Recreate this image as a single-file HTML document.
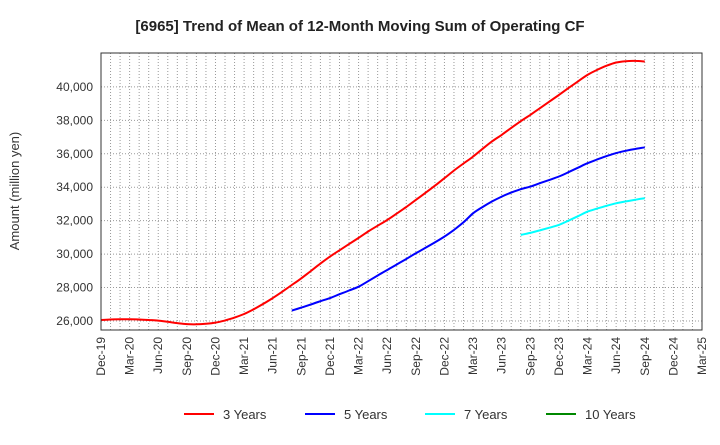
<!DOCTYPE html>
<html><head><meta charset="utf-8"><style>
body{margin:0;background:#fff;font-family:"Liberation Sans",sans-serif}
</style></head><body>
<svg id="chart" width="720" height="440" xmlns="http://www.w3.org/2000/svg" font-family="Liberation Sans, sans-serif">
<text x="360" y="31" text-anchor="middle" font-size="15" font-weight="bold" fill="#222">[6965]  Trend of Mean of 12-Month Moving Sum of Operating CF</text>
<text transform="translate(19,191) rotate(-90)" text-anchor="middle" font-size="13" fill="#333">Amount (million yen)</text>
<g id="grid"></g>
<g id="series"></g>
<rect x="101" y="53" width="601" height="277" fill="none" stroke="#333" stroke-width="1"/>
<g id="yt"></g>
<g id="xt"></g>
<g font-size="13" fill="#333">
<g><line x1="184" y1="414" x2="214" y2="414" stroke="#f00" stroke-width="2"/><text x="223" y="419">3 Years</text></g>
<g><line x1="305" y1="414" x2="335" y2="414" stroke="#00f" stroke-width="2"/><text x="344" y="419">5 Years</text></g>
<g><line x1="425" y1="414" x2="455" y2="414" stroke="#0ff" stroke-width="2"/><text x="464" y="419">7 Years</text></g>
<g><line x1="546" y1="414" x2="576" y2="414" stroke="#080" stroke-width="2"/><text x="585" y="419">10 Years</text></g>
</g>
</svg>
<script>
const xTickLabels=["Dec-19","Mar-20","Jun-20","Sep-20","Dec-20","Mar-21","Jun-21","Sep-21","Dec-21","Mar-22","Jun-22","Sep-22","Dec-22","Mar-23","Jun-23","Sep-23","Dec-23","Mar-24","Jun-24","Sep-24","Dec-24","Mar-25"];
const yTicks=[26000,28000,30000,32000,34000,36000,38000,40000];
const start3=0;
const values3=[26060,26090,26100,26100,26090,26060,26020,25950,25870,25810,25800,25830,25900,26030,26200,26420,26700,27020,27370,27750,28150,28550,28990,29430,29850,30230,30600,30970,31350,31700,32040,32420,32820,33240,33660,34090,34540,35000,35420,35830,36300,36750,37130,37550,37950,38330,38720,39120,39520,39930,40330,40720,41020,41270,41460,41540,41560,41520];
const start5=20;
const values5=[26620,26800,26990,27180,27370,27600,27820,28050,28380,28720,29050,29380,29710,30050,30370,30700,31050,31450,31900,32440,32820,33150,33440,33680,33880,34040,34240,34440,34640,34900,35170,35440,35660,35860,36040,36180,36290,36390];
const start7=44;
const values7=[31150,31270,31420,31580,31750,32000,32270,32540,32720,32890,33040,33150,33250,33340];
const start10=0;
const values10=[];
const L=101,R=702,T=53,B=330,yMin=25460,yMax=42030,nMonths=63;
const X=m=>L+(R-L)*m/nMonths;
const Y=v=>B-(B-T)*(v-yMin)/(yMax-yMin);
const NS="http://www.w3.org/2000/svg";
function mk(tag,attrs,parent){const e=document.createElementNS(NS,tag);for(const k in attrs)e.setAttribute(k,attrs[k]);parent.appendChild(e);return e;}
const grid=document.getElementById('grid'),yt=document.getElementById('yt'),xt=document.getElementById('xt'),ser=document.getElementById('series');
for(let m=1;m<nMonths;m++){const l=mk('line',{x1:X(m),x2:X(m),y1:T,y2:B,stroke:'#999','stroke-width':1,'stroke-dasharray':'1,2'},grid);

}
yTicks.forEach(v=>{const l=mk('line',{x1:L,x2:R,y1:Y(v),y2:Y(v),stroke:'#999','stroke-width':1,'stroke-dasharray':'1,2'},grid);


const t=mk('text',{x:L-8,y:Y(v)+4,'text-anchor':'end','font-size':12,fill:'#333'},yt);t.textContent=v.toLocaleString('en-US');

});
xTickLabels.forEach((s,i)=>{const x=X(i*3);const t=mk('text',{x:0,y:0,'text-anchor':'end','font-size':12,fill:'#333',transform:`translate(${x+4},${B+7}) rotate(-90)`},xt);t.textContent=s;

});
function draw(vals,st,color,name){if(!vals.length)return;
const pts=vals.map((v,i)=>[X(st+i),Y(v)]);
let d='M'+pts[0][0].toFixed(1)+','+pts[0][1].toFixed(1);
for(let i=0;i<pts.length-1;i++){const p0=pts[Math.max(0,i-1)],p1=pts[i],p2=pts[i+1],p3=pts[Math.min(pts.length-1,i+2)];
const c1=[p1[0]+(p2[0]-p0[0])/6,p1[1]+(p2[1]-p0[1])/6],c2=[p2[0]-(p3[0]-p1[0])/6,p2[1]-(p3[1]-p1[1])/6];
d+=`C${c1[0].toFixed(1)},${c1[1].toFixed(1)} ${c2[0].toFixed(1)},${c2[1].toFixed(1)} ${p2[0].toFixed(1)},${p2[1].toFixed(1)}`;}
const p=mk('path',{d:d,fill:'none',stroke:color,'stroke-width':2,'stroke-linejoin':'round'},ser);

}
draw(values3,start3,'#f00','line-3-years');
draw(values5,start5,'#00f','line-5-years');
draw(values7,start7,'#0ff','line-7-years');
draw(values10,start10,'#080','line-10-years');
</script>
</body></html>
